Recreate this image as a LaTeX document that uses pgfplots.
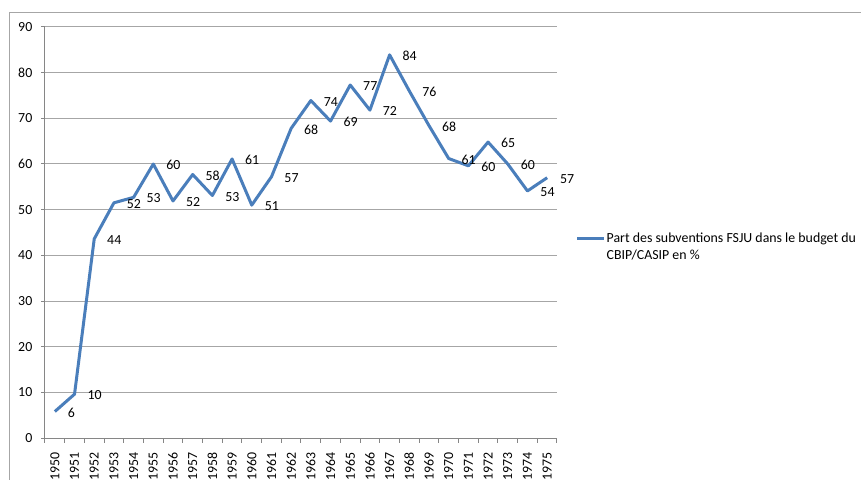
\documentclass[border=0pt]{standalone}
\usepackage{pgfplots}
\pgfplotsset{compat=1.18}
\usepackage{fontspec}
\setmainfont{Carlito}
\definecolor{xlblue}{HTML}{4A7EBB}
\definecolor{gridgray}{HTML}{A6A6A6}
\definecolor{axgray}{HTML}{868686}
\begin{document}
\begin{tikzpicture}[x=1pt,y=1pt]
\useasboundingbox (0,0) rectangle (645.75,359.25);
\fill[white] (0,0) rectangle (645.75,359.25);
\draw[gridgray, line width=0.75pt] (6.9,-5) -- (6.9,350) -- (650,350);
\begin{axis}[
  at={(33.75pt,30.75pt)}, anchor=south west,
  scale only axis, width=384pt, height=308.25pt,
  xmin=1949.5, xmax=1975.5, ymin=0, ymax=90,
  ytick={0,10,...,90},
  xtick={1950,...,1975},
  minor xtick={1949.5,1950.5,...,1975.5},
  axis x line*=bottom, axis y line*=left,
  axis line style={-, draw=axgray, line width=0.75pt},
  ymajorgrids, grid style={draw=gridgray, line width=0.75pt},
  tick align=outside,
  major tick length=3pt, minor tick length=3.5pt,
  major x tick style={draw=none},
  minor x tick style={draw=axgray, line width=0.75pt},
  major y tick style={draw=axgray, line width=0.75pt},
  /pgf/number format/assume math mode=true,
  /pgf/number format/1000 sep={},
  tick label style={font=\fontsize{10.4}{12.4}\selectfont, text=black},
  xticklabel style={rotate=90, anchor=east, xshift=-4pt},
  yticklabel style={xshift=-3pt},
  legend style={draw=none, fill=none, at={(1.036,0.4866)}, anchor=west,
    font=\fontsize{10.4}{12.3}\selectfont, inner sep=0pt, row sep=0pt,
    nodes={inner sep=1pt}},
  legend cell align=left,
  legend image code/.code={\draw[xlblue, line width=2.25pt] (0pt,0pt) -- (20pt,0pt);},
  clip=false,
]
\addplot[xlblue, line width=2.25pt, line join=round,
  point meta=explicit symbolic,
  nodes near coords,
  every node near coord/.style={anchor=west, xshift=5.3pt, yshift=-0.8pt,
    font=\fontsize{10.4}{12.4}\selectfont, text=black},
] coordinates {
(1950,5.8) [6]
(1951,9.6) [10]
(1952,43.6) [44]
(1953,51.5) [52]
(1954,52.7) [53]
(1955,60.0) [60]
(1956,51.9) [52]
(1957,57.7) [58]
(1958,53.1) [53]
(1959,61.1) [61]
(1960,51.0) [51]
(1961,57.2) [57]
(1962,67.8) [68]
(1963,73.9) [74]
(1964,69.4) [69]
(1965,77.3) [77]
(1966,71.8) [72]
(1967,83.9) [84]
(1968,76.0) [76]
(1969,68.4) [68]
(1970,61.2) [61]
(1971,59.6) [60]
(1972,64.8) [65]
(1973,60.0) [60]
(1974,54.1) [54]
(1975,57.0) [57]
};
\addlegendentry{\begin{tabular}[t]{@{}l@{}}Part des subventions FSJU dans le budget du\\CBIP/CASIP en \%\end{tabular}}
\end{axis}
\end{tikzpicture}
\end{document}
